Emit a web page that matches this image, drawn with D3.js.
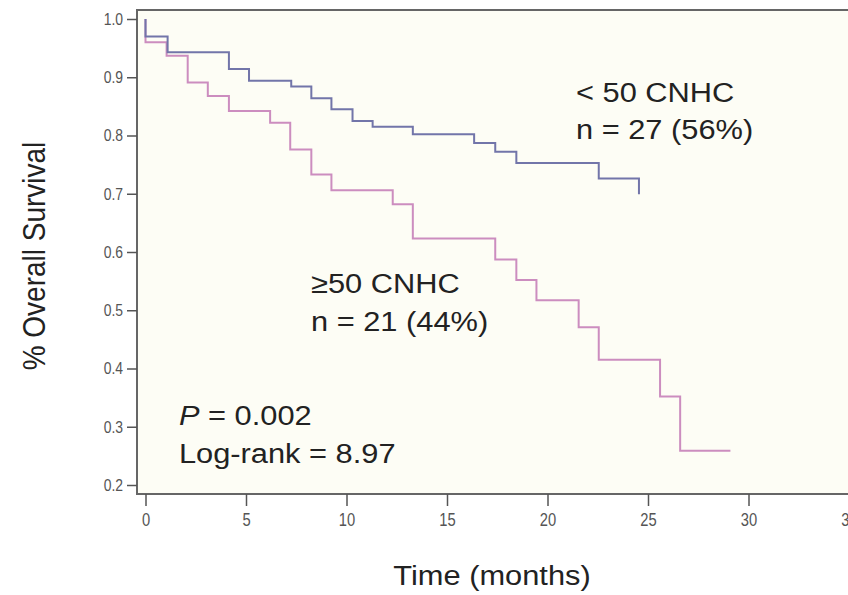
<!DOCTYPE html>
<html>
<head>
<meta charset="utf-8">
<script src="https://cdn.jsdelivr.net/npm/d3@7"></script>
<style>
  body { margin: 0; background: #fff; }
  svg { display: block; }
  .tick text { font-family: "Liberation Sans", Arial, sans-serif; fill: #555; }
  .big { font-family: "Liberation Sans", Arial, Helvetica, sans-serif; fill: #222; }
</style>
</head>
<body>
<svg></svg>
<script>
"use strict";

// Kaplan-Meier steps (time in months, survival after each drop)
var blueTimes = [0, 1.1, 4.15, 5.15, 7.25, 8.25, 9.25, 10.3, 11.3, 13.3, 16.35, 17.4, 18.45, 22.55, 24.55];
var blueSurv = [0.970, 0.943, 0.914, 0.894, 0.884, 0.864, 0.845, 0.825, 0.815, 0.802, 0.787, 0.772, 0.753, 0.726, 0.699];
var blueEnd = 24.55;

var pinkTimes = [0, 1.05, 2.1, 3.1, 4.15, 6.2, 7.2, 8.25, 9.25, 12.3, 13.3, 17.4, 18.45, 19.45, 21.55, 22.55, 25.6, 26.6];
var pinkSurv = [0.960, 0.937, 0.891, 0.868, 0.842, 0.822, 0.776, 0.733, 0.706, 0.682, 0.623, 0.587, 0.552, 0.517, 0.471, 0.415, 0.352, 0.259];
var pinkEnd = 29.1;

var xTicks = [0, 5, 10, 15, 20, 25, 30, 35];
var yTicks = [0.2, 0.3, 0.4, 0.5, 0.6, 0.7, 0.8, 0.9, 1.0];

var width = 848,
    height = 595;

var svg = d3.select("svg")
    .attr("width", width)
    .attr("height", height);

var x = d3.scaleLinear().domain([0, 35]).range([145.5, 849]);
var y = d3.scaleLinear().domain([0.2, 1.0]).range([485, 19]);

var frameLeft = 137, frameTop = 10, frameBottom = 494;

// plot area
svg.append("rect")
    .attr("x", frameLeft)
    .attr("y", frameTop)
    .attr("width", width + 20 - frameLeft)
    .attr("height", frameBottom - frameTop)
    .attr("fill", "#fdfdf5")
    .attr("stroke", "#666")
    .attr("stroke-width", 2);

// axes -- tick labels are condensed in the source, squeeze them a bit
var squeeze = 0.82;

var yAxis = svg.append("g")
    .attr("transform", "translate(" + frameLeft + ",0)")
    .call(d3.axisLeft(y).tickValues(yTicks).tickFormat(d3.format(".1f")).tickSize(10).tickPadding(4));
yAxis.select(".domain").remove();
yAxis.selectAll(".tick line").attr("stroke", "#555").attr("stroke-width", 1.5);
yAxis.selectAll(".tick text")
    .style("font-size", "17px")
    .attr("x", -14 / squeeze)
    .attr("transform", "scale(" + squeeze + ",1)");

var xAxis = svg.append("g")
    .attr("transform", "translate(0," + frameBottom + ")")
    .call(d3.axisBottom(x).tickValues(xTicks).tickFormat(d3.format("d")).tickSize(12).tickPadding(7));
xAxis.select(".domain").remove();
xAxis.selectAll(".tick line").attr("stroke", "#555").attr("stroke-width", 1.5);
xAxis.selectAll(".tick text")
    .style("font-size", "18px")
    .attr("transform", "scale(" + squeeze + ",1)");

// survival curves
function steps(times, surv, end) {
    var pts = [[0, 1.0]];
    times.forEach(function (t, i) { pts.push([t, surv[i]]); });
    pts.push([end, surv[surv.length - 1]]);
    return pts;
}

var line = d3.line()
    .x(function (d) { return x(d[0]); })
    .y(function (d) { return y(d[1]); })
    .curve(d3.curveStepAfter);

svg.append("path")
    .attr("d", line(steps(pinkTimes, pinkSurv, pinkEnd)))
    .attr("fill", "none")
    .attr("stroke", "#cc8dbf")
    .attr("stroke-width", 2);

svg.append("path")
    .attr("d", line(steps(blueTimes, blueSurv, blueEnd)))
    .attr("fill", "none")
    .attr("stroke", "#7275a9")
    .attr("stroke-width", 2);

// annotations (slightly wide lettering in the source)
function label(px, py, str) {
    return svg.append("text")
        .attr("class", "big")
        .attr("transform", "translate(" + px + "," + py + ") scale(1.1,1)")
        .style("font-size", "28px")
        .text(str);
}

label(576, 102, "< 50 CNHC");
label(576, 139, "n = 27 (56%)");
label(311, 293, "\u226550 CNHC");
label(311, 331, "n = 21 (44%)");

var p = label(179, 425, "");
p.append("tspan").style("font-style", "italic").text("P");
p.append("tspan").text(" = 0.002");
label(179, 463, "Log-rank = 8.97");

// axis titles
svg.append("text")
    .attr("class", "big")
    .attr("transform", "translate(492,585) scale(1.1,1)")
    .attr("text-anchor", "middle")
    .style("font-size", "28px")
    .text("Time (months)");

svg.append("text")
    .attr("class", "big")
    .attr("transform", "translate(45,256) rotate(-90) scale(1,1.1)")
    .attr("text-anchor", "middle")
    .style("font-size", "28px")
    .text("% Overall Survival");
</script>
</body>
</html>
